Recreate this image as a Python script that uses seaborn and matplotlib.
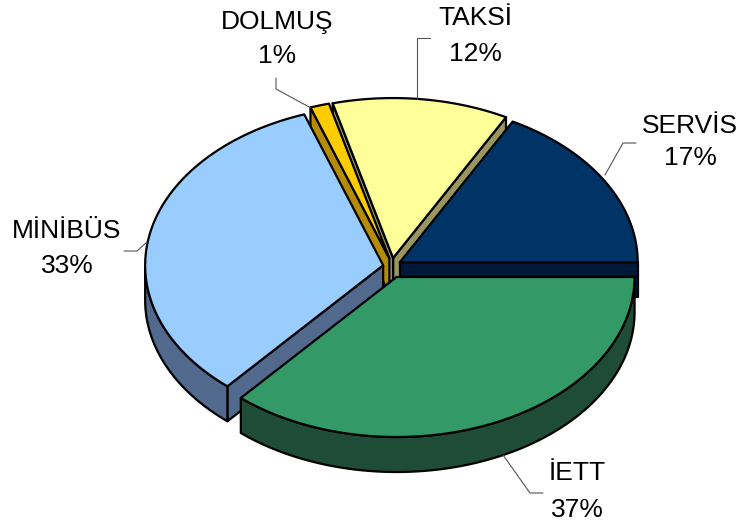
import numpy as np
import matplotlib
matplotlib.use("Agg")
import matplotlib.pyplot as plt
from matplotlib.patches import Polygon
import seaborn as sns

# ---- data ----
categories = ["SERVİS", "TAKSİ", "DOLMUŞ", "MİNİBÜS", "İETT"]
values = [17.2, 12.0, 1.3, 33.4, 36.5]
pct_labels = ["17%", "12%", "1%", "33%", "37%"]

# ---- styles ----
top_colors = ["#003366", "#FFFF99", "#FFCC00", "#99CCFF", "#339966"]
side_colors = ["#00183a", "#9a9660", "#b48c06", "#50698c", "#1f4c36"]
explode_px = [9, 9, 9, 9, 11]

sns.set_theme(style="white")
plt.rcParams['font.family'] = ['Liberation Sans', 'DejaVu Sans']

W, H = 743, 526
fig = plt.figure(figsize=(W / 100, H / 100), dpi=100)
ax = fig.add_axes([0, 0, 1, 1])
ax.set_xlim(0, W)
ax.set_ylim(H, 0)
ax.axis("off")

# layout of the 3D pie (screen pixels)
cx, cy = 392, 267
rx, ry = 238, 160
depth = 35

vals = np.array(values, dtype=float)
frac = vals / vals.sum()
ends = np.cumsum(frac) * 360.0
starts = ends - frac * 360.0
mids = (starts + ends) / 2


def offset(i):
    m = np.radians(mids[i])
    d = explode_px[i]
    return d * np.cos(m), -d * np.sin(m)


def arc(a, b, off, z=0, n=None):
    if n is None:
        n = max(2, int(abs(b - a) / 1.0) + 2)
    t = np.radians(np.linspace(a, b, n))
    x = cx + off[0] + rx * np.cos(t)
    y = cy + off[1] - ry * np.sin(t) + z
    return np.column_stack([x, y])


lw = 1.6
order = np.argsort(-np.sin(np.radians(mids)))

# side faces (back to front)
for i in order:
    a, b = starts[i], ends[i]
    off = offset(i)
    v_top = np.array([cx + off[0], cy + off[1]])
    v_bot = v_top + [0, depth]
    faces = []
    if np.cos(np.radians(a)) > 1e-9:
        e = arc(a, a, off, n=1)[0]
        faces.append(np.array([v_top, e, e + [0, depth], v_bot]))
    if np.cos(np.radians(b)) < -1e-9:
        e = arc(b, b, off, n=1)[0]
        faces.append(np.array([v_top, e, e + [0, depth], v_bot]))
    lo, hi = max(a, 180.0), min(b, 360.0)
    if hi > lo:
        top_arc = arc(lo, hi, off)
        bot_arc = arc(lo, hi, off, z=depth)[::-1]
        faces.append(np.vstack([top_arc, bot_arc]))
    for f in faces:
        ax.add_patch(Polygon(f, closed=True, facecolor=side_colors[i],
                             edgecolor="black", lw=lw, joinstyle="round"))

# top faces
for i in order:
    a, b = starts[i], ends[i]
    off = offset(i)
    v_top = np.array([cx + off[0], cy + off[1]])
    poly = np.vstack([v_top, arc(a, b, off)])
    ax.add_patch(Polygon(poly, closed=True, facecolor=top_colors[i],
                         edgecolor="black", lw=lw, joinstyle="round"))

# labels and leader lines (layout)
label_pos = [(690, 126, 158), (475, 18, 54), (277, 22, 56), (67, 231, 266), (577, 473, 510)]
leaders = [
    [(605, 175), (623, 143), (636, 143)],
    [(417, 99), (417, 38), (430, 38)],
    [(311, 108), (276, 89), (276, 78)],
    [(147, 242), (137, 251), (124, 251)],
    [(503, 455), (530, 493), (543, 493)],
]
for i in range(len(categories)):
    x, y1, y2 = label_pos[i]
    ax.text(x, y1, categories[i], ha="center", va="center", fontsize=19, color="black")
    ax.text(x, y2, pct_labels[i], ha="center", va="center", fontsize=19, color="black")
    pts = np.array(leaders[i])
    ax.plot(pts[:, 0], pts[:, 1], color="#555555", lw=0.8)

fig.savefig("out.png", dpi=100)
